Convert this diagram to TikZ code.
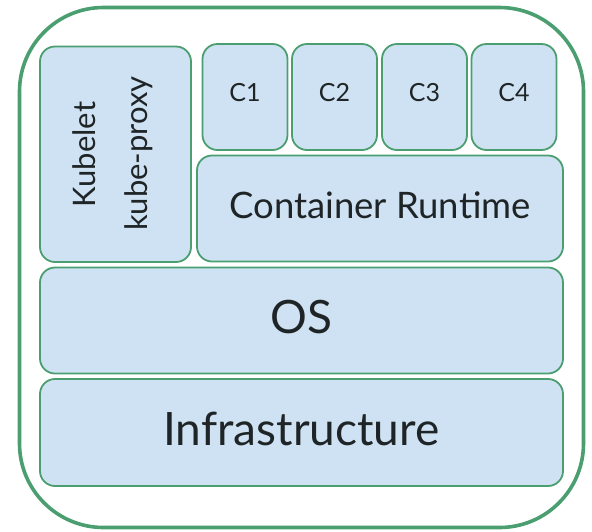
\documentclass[tikz,border=0pt]{standalone}
\usepackage{fontspec}
\setmainfont{Lato}
\definecolor{boxfill}{HTML}{CFE2F3}
\definecolor{boxline}{HTML}{4B9E70}
\definecolor{ink}{HTML}{1F2526}
\tikzset{
  layer/.style={draw=boxline, fill=boxfill, line width=1.8pt, rounded corners=15pt},
  label/.style={text=ink, inner sep=0pt},
}
\begin{document}
\begin{tikzpicture}[x=1pt, y=-1pt]
\useasboundingbox (0,0) rectangle (592,531);
% node frame
\draw[boxline, line width=3.6pt, rounded corners=84pt] (19.5,7.5) rectangle (583.5,527.5);

% agent box
\draw[layer] (40,46.5) rectangle (191,262);
\node[label, rotate=90, anchor=base, font=\fontsize{31}{40}\selectfont] (kubelet) at (95,154.5) {Kubelet};
\node[label, rotate=90, anchor=base, font=\fontsize{31}{40}\selectfont] (proxy) at (147,153.5) {kube-proxy};

% containers
\foreach \i/\xa in {1/202.5, 2/292, 3/382, 4/471.5} {
  \draw[layer] (\xa,44) rectangle ++(85,106) coordinate[pos=0.5] (cc\i);
  \node[label, font=\fontsize{25}{30}\selectfont] (c\i) at ([yshift=4pt]cc\i) {C\i};
}

% runtime
\draw[layer] (197,155.5) rectangle (563,261.5) coordinate[pos=0.5] (rtc);
\node[label, font=\fontsize{36.5}{44}\selectfont] (rt) at ([yshift=3.5pt]rtc) {Container Runtime};

% OS
\draw[layer] (40,267.5) rectangle (563,373.5) coordinate[pos=0.5] (osc);
\node[label, font=\fontsize{46}{54}\selectfont] (os) at ([yshift=3pt]osc) {OS};

% infrastructure
\draw[layer] (40,379) rectangle (563,486) coordinate[pos=0.5] (infc);
\node[label, font=\fontsize{46}{54}\selectfont] (inf) at ([yshift=3.5pt]infc) {Infrastructure};
\end{tikzpicture}
\end{document}
